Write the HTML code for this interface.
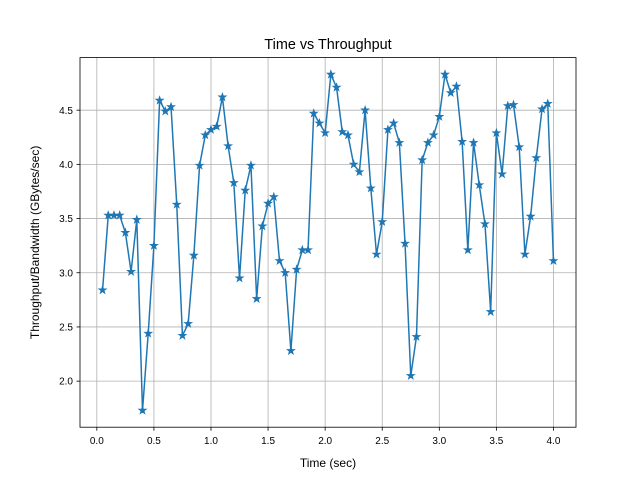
<!DOCTYPE html>
<html><head><meta charset="utf-8"><style>
body{margin:0;background:#fff}
svg{display:block;font-family:"Liberation Sans","DejaVu Sans",sans-serif}
</style></head><body>
<svg id="c" width="640" height="480" viewBox="0 0 640 480">
<rect width="640" height="480" fill="#fff"/>
<g id="grid"></g>
<g id="axes"></g>
<g id="series"></g>
<rect x="80" y="57.6" width="496" height="369.6" fill="none" stroke="#000" stroke-width="0.8"/>
<text x="328" y="49" text-anchor="middle" font-size="14.4">Time vs Throughput</text>
<text x="328" y="467" text-anchor="middle" font-size="12">Time (sec)</text>
<text transform="translate(39,242.4) rotate(-90)" text-anchor="middle" font-size="12">Throughput/Bandwidth (GBytes/sec)</text>
</svg>
<script>
const times=[];for(let i=1;i<=80;i++)times.push(+(i*0.05).toFixed(2));
const throughput=[2.84,3.53,3.53,3.53,3.37,3.01,3.49,1.73,2.44,3.25,4.59,4.49,4.53,3.63,2.42,2.53,3.16,3.99,4.27,4.32,4.35,4.62,4.17,3.83,2.95,3.76,3.99,2.76,3.43,3.64,3.70,3.11,3.00,2.28,3.03,3.21,3.21,4.47,4.38,4.29,4.83,4.71,4.30,4.27,4.00,3.93,4.50,3.78,3.17,3.47,4.32,4.38,4.20,3.27,2.05,2.41,4.04,4.20,4.27,4.44,4.83,4.66,4.72,4.21,3.21,4.20,3.81,3.45,2.64,4.29,3.91,4.54,4.55,4.16,3.17,3.52,4.06,4.51,4.56,3.11];
const xTicks=[0,0.5,1,1.5,2,2.5,3,3.5,4];
const xTickLabels=["0.0","0.5","1.0","1.5","2.0","2.5","3.0","3.5","4.0"];
const yTicks=[2,2.5,3,3.5,4,4.5];
const yTickLabels=["2.0","2.5","3.0","3.5","4.0","4.5"];
const NS="http://www.w3.org/2000/svg";
const L=80,R=576,T=57.6,B=427.2;
let xmin=Math.min(...times),xmax=Math.max(...times),ymin=Math.min(...throughput),ymax=Math.max(...throughput);
const xm=(xmax-xmin)*0.05,ym=(ymax-ymin)*0.05;xmin-=xm;xmax+=xm;ymin-=ym;ymax+=ym;
const X=v=>L+(v-xmin)/(xmax-xmin)*(R-L);
const Y=v=>B-(v-ymin)/(ymax-ymin)*(B-T);
function mk(t,a,p){const e=document.createElementNS(NS,t);for(const k in a)e.setAttribute(k,a[k]);p.appendChild(e);return e;}
const grid=document.getElementById('grid'),axes=document.getElementById('axes'),ser=document.getElementById('series');
xTicks.forEach((v,i)=>{const x=X(v);
let g=mk('line',{x1:x,x2:x,y1:T,y2:B,stroke:'#b0b0b0','stroke-width':0.8},grid);

let t=mk('line',{x1:x,x2:x,y1:B,y2:B+3.5,stroke:'#000','stroke-width':0.8},axes);

let l=mk('text',{x:x,y:B+17,'text-anchor':'middle','font-size':10},axes);l.textContent=xTickLabels[i];
});
yTicks.forEach((v,i)=>{const y=Y(v);
let g=mk('line',{x1:L,x2:R,y1:y,y2:y,stroke:'#b0b0b0','stroke-width':0.8},grid);

let t=mk('line',{x1:L-3.5,x2:L,y1:y,y2:y,stroke:'#000','stroke-width':0.8},axes);

let l=mk('text',{x:L-7,y:y+3.6,'text-anchor':'end','font-size':10},axes);l.textContent=yTickLabels[i];
});
const pts=times.map((t,i)=>X(t).toFixed(2)+','+Y(throughput[i]).toFixed(2)).join(' ');
const line=mk('polyline',{points:pts,fill:'none',stroke:'#1f77b4','stroke-width':1.5,'stroke-linejoin':'round'},ser);

function star(cx,cy,r){let p=[];for(let k=0;k<10;k++){const rr=k%2?r*0.4:r;const a=-Math.PI/2+k*Math.PI/5;p.push((cx+rr*Math.cos(a)).toFixed(2)+','+(cy+rr*Math.sin(a)).toFixed(2));}return p.join(' ');}
times.forEach((t,i)=>{const s=mk('polygon',{points:star(X(t),Y(throughput[i]),4),fill:'#1f77b4',stroke:'#1f77b4','stroke-width':0.8},ser);
});
</script>
</body></html>
